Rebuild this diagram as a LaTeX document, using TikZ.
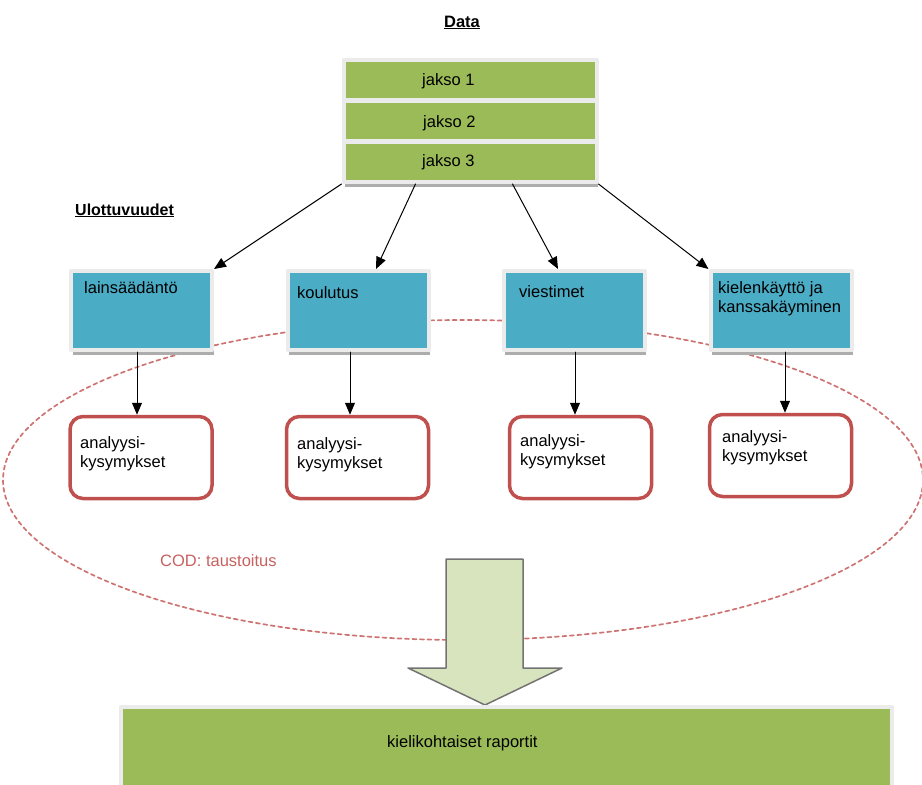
\documentclass[tikz,border=0pt]{standalone}
\usepackage{fontspec}
\setmainfont{Liberation Sans}
\usetikzlibrary{arrows.meta,shadows}

\definecolor{jaksogreen}{HTML}{9BBB59}
\definecolor{dimblue}{HTML}{4BACC6}
\definecolor{codred}{HTML}{C0504D}
\definecolor{paleolive}{HTML}{D7E4BD}

\begin{document}
\begin{tikzpicture}[x=1pt, y=-1pt, line cap=round, line join=round,
    every node/.style={font=\fontsize{16.5}{19}\selectfont, inner sep=0pt},
    frame/.style={draw=white!92!black, line width=4pt,
      drop shadow={shadow xshift=1.5pt, shadow yshift=-4.5pt, fill=black!32, opacity=1}},
    jaksobox/.style={frame, fill=jaksogreen, minimum width=253, minimum height=40},
    dimbox/.style={frame, fill=dimblue, minimum width=141, minimum height=79},
    askbox/.style={draw=codred, line width=3.5pt, rounded corners=13pt, fill=white,
      minimum width=142, minimum height=82},
    reportbox/.style={frame, fill=jaksogreen, minimum width=771, minimum height=112},
    arr/.style={line width=1pt, -{Triangle[length=12pt, width=10pt]}},
    codline/.style={draw=codred!80, line width=1.7pt, dash pattern=on 4pt off 3.5pt},
    bigarrow/.style={draw=black!55, line width=1.5pt, fill=paleolive}]

  \useasboundingbox (0,0) rectangle (922,785);

  % --- COD ELLIPSE (BEHIND EVERYTHING) ---
  \draw[codline] (463,480) ellipse [x radius=460, y radius=160];
  \node[text=codred!90, anchor=base west] (cod) at (160,566) {COD: taustoitus};

  % --- DATA ---
  \node[font=\fontsize{16.5}{19}\selectfont\bfseries, anchor=base] (data) at (462,27) {\underline{Data}};
  \node[jaksobox] (j1) at (470,80) {};
  \node[jaksobox] (j2) at (470,121) {};
  \node[jaksobox] (j3) at (470,162) {};
  \node[anchor=base west] (j1t) at (422,85) {jakso 1};
  \node[anchor=base west] (j2t) at (423,127) {jakso 2};
  \node[anchor=base west] (j3t) at (422,166) {jakso 3};

  % --- ULOTTUVUUDET ---
  \node[font=\fontsize{16}{19}\selectfont\bfseries, anchor=base west] (ulo) at (75,215) {\underline{Ulottuvuudet}};
  \node[dimbox] (L) at (141.5,310.5) {};
  \node[dimbox] (K) at (358,310.5) {};
  \node[dimbox] (V) at (574,310.5) {};
  \node[dimbox] (Kiel) at (781,310.5) {};
  \node[anchor=base west] (Lt) at (84,293) {lainsäädäntö};
  \node[anchor=base west] (Kt) at (297,298) {koulutus};
  \node[anchor=base west] (Vt) at (519,297) {viestimet};
  \node[anchor=north west, align=left] (Kielt) at (718,281) {kielenkäyttö ja\\kanssakäyminen};

  % --- ARROWS FROM DATA ---
  \draw[arr] (j3.south west) -- (L.north east);
  \draw[arr] ([xshift=74]j3.south west) -- ([xshift=18]K.north);
  \draw[arr] ([xshift=-86]j3.south east) -- ([xshift=-16]V.north);
  \draw[arr] (j3.south east) -- (Kiel.north west);

  % --- ANALYYSIKYSYMYKSET ---
  \node[askbox] (R1) at (141,457.5) {};
  \node[askbox] (R2) at (357.5,457.5) {};
  \node[askbox] (R3) at (580.5,457.5) {};
  \node[askbox] (R4) at (780.5,455.5) {};
  \node[anchor=north west, align=left] (R1t) at (80,436) {analyysi-\\kysymykset};
  \node[anchor=north west, align=left] (R2t) at (297,437) {analyysi-\\kysymykset};
  \node[anchor=north west, align=left] (R3t) at (520,434) {analyysi-\\kysymykset};
  \node[anchor=north west, align=left] (R4t) at (722,430) {analyysi-\\kysymykset};

  \foreach \a/\b/\s in {L/R1/-4.5, K/R2/-8, V/R3/1, Kiel/R4/4}
    \draw[arr] ([xshift=\s]\a.south) -- ([xshift=\s]\a.south |- \b.north);

  % --- BIG ARROW AND REPORTS ---
  \draw[bigarrow] (446,559) -- (523,559) -- (523,668) -- (562,668) -- (485,705)
    -- (408,668) -- (446,668) -- cycle;
  \node[reportbox] (rep) at (506.5,763) {};
  \node[anchor=base west] (rept) at (387,747) {kielikohtaiset raportit};

\end{tikzpicture}
\end{document}
